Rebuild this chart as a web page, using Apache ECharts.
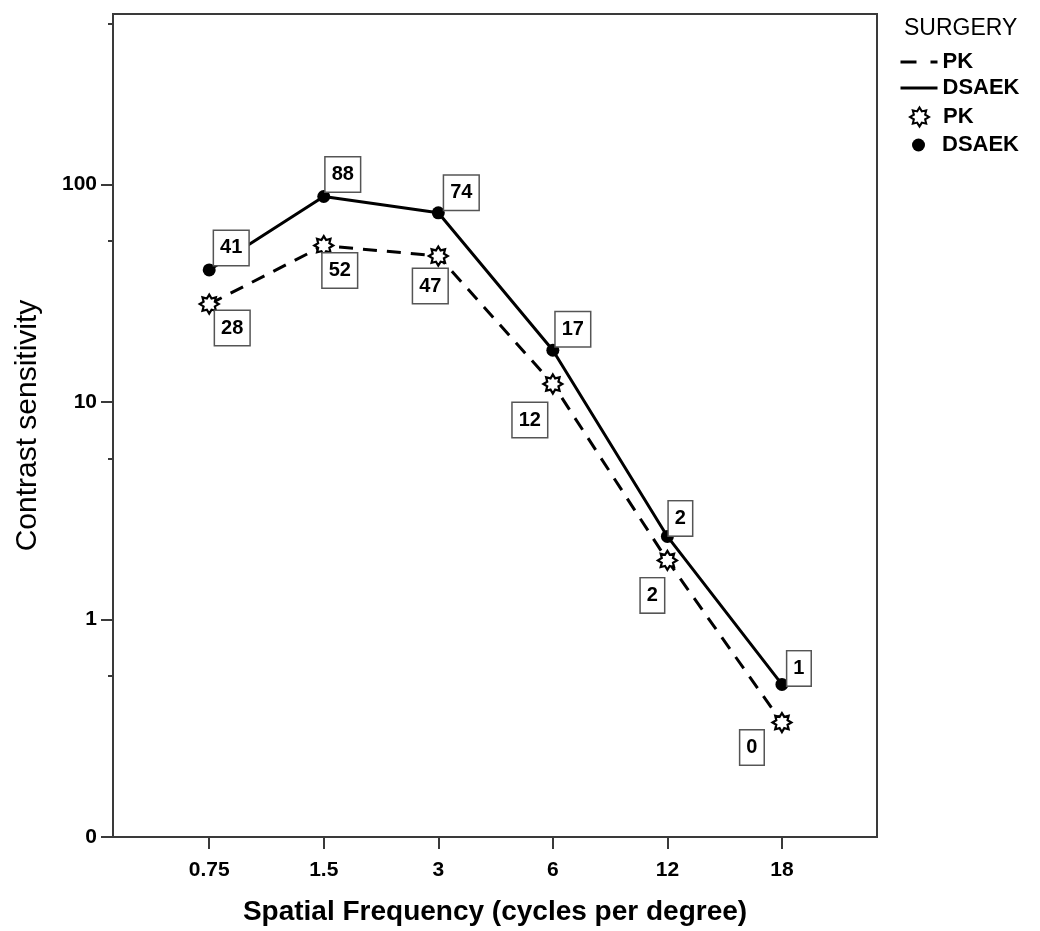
<!DOCTYPE html>
<html>
<head>
<meta charset="utf-8">
<script src="https://cdn.jsdelivr.net/npm/echarts@6/dist/echarts.min.js"></script>
<style>
html,body{margin:0;padding:0;background:#fff;}
#chart{width:1040px;height:931px;}
</style>
</head>
<body>
<div id="chart"></div>
<script>
// ---- data ----
var categories = ['0.75', '1.5', '3', '6', '12', '18'];
var pkValues = [28.2, 52.4, 46.9, 12.1, 1.87, 0.336];
var dsaekValues = [40.5, 88.1, 74.1, 17.3, 2.41, 0.503];
var yTickValues = [0.1, 1, 10, 100];
var yMinorTickValues = [0.55, 5.5, 55, 550];

// ---- label placement (style, not data) ----
var pkLabelOffsets = [[23, 7], [16, 8], [-8, 13], [-23, 19], [-15, 18], [-30, 8]];
var dsaekLabelOffsets = [[22, -5], [19, -5], [23, -3], [20, -4], [13, -1], [17, 1]];

var FONT = "'Liberation Sans', Arial, sans-serif";
var AXIS_COLOR = '#3a3a3a';

function lg(v) { return Math.log10(v); }

// 8-point star outline path
function starPath() {
  var pts = [];
  var n = 8, R = 50, r = 32;
  for (var i = 0; i < n * 2; i++) {
    var a = Math.PI * i / n - Math.PI / 2;
    var rad = (i % 2 === 0) ? R : r;
    pts.push((50 + rad * Math.cos(a)).toFixed(2) + ' ' + (50 + rad * Math.sin(a)).toFixed(2));
  }
  return 'path://M' + pts.join(' L') + ' Z';
}
var STAR = starPath();

function lineData(vals) {
  return vals.map(function (v, i) { return [i, lg(v)]; });
}
function markerData(vals, offsets, vAlign) {
  return vals.map(function (v, i) {
    return {
      value: [i, lg(v)],
      label: { offset: offsets[i], verticalAlign: vAlign }
    };
  });
}

var labelBox = {
  show: true,
  position: ['50%', '50%'],
  align: 'center',
  color: '#000',
  fontFamily: FONT,
  fontSize: 20,
  fontWeight: 'bold',
  lineHeight: 20,
  backgroundColor: '#fff',
  borderColor: '#555',
  borderWidth: 1.5,
  padding: [7, 6]
};

var hiddenSymbol = { color: 'rgba(0,0,0,0)', borderWidth: 0, borderColor: 'rgba(0,0,0,0)' };

var chart = echarts.init(document.getElementById('chart'));
var yMin = -1, yMax = 2.784;

var option = {
  animation: false,
  backgroundColor: '#fff',
  textStyle: { fontFamily: FONT },
  title: {
    text: 'SURGERY',
    left: 904, top: 17, padding: 0,
    textStyle: { fontFamily: FONT, fontSize: 23, fontWeight: 'normal', color: '#000' }
  },
  legend: [
    { data: [{ name: 'PK line', itemStyle: hiddenSymbol, lineStyle: { type: [16, 14], width: 3, color: '#000' } }], top: 51, left: 899 },
    { data: [{ name: 'DSAEK line', itemStyle: hiddenSymbol, lineStyle: { type: 'solid', width: 3, color: '#000' } }], top: 77, left: 899 },
    { data: ['PK marker'], top: 106, itemHeight: 19, left: 909 },
    { data: ['DSAEK marker'], top: 134, itemHeight: 13, left: 912 }
  ].map(function (l) {
    return Object.assign({
      orient: 'vertical', padding: 0, itemWidth: 37, itemHeight: 14, itemGap: 7,
      selectedMode: false,
      formatter: function (name) { return name.split(' ')[0]; },
      textStyle: { fontFamily: FONT, fontSize: 22, fontWeight: 'bold', color: '#000', lineHeight: 22 }
    }, l);
  }),
  grid: {
    left: 113, right: 163, top: 14, bottom: 92,
    show: true, borderColor: AXIS_COLOR, borderWidth: 2, backgroundColor: 'transparent'
  },
  xAxis: {
    type: 'value',
    min: -0.84, max: 5.83,
    axisLine: { show: true, onZero: false, lineStyle: { color: AXIS_COLOR, width: 2 } },
    axisTick: { show: true, customValues: [0, 1, 2, 3, 4, 5], length: 12, lineStyle: { color: AXIS_COLOR, width: 2 } },
    axisLabel: {
      customValues: [0, 1, 2, 3, 4, 5],
      formatter: function (v) { return categories[Math.round(v)]; },
      margin: 23, fontFamily: FONT, fontSize: 21, fontWeight: 'bold', color: '#000'
    },
    splitLine: { show: false },
    name: 'Spatial Frequency (cycles per degree)',
    nameLocation: 'middle', nameGap: 61,
    nameTextStyle: { fontFamily: FONT, fontSize: 28, fontWeight: 'bold', color: '#000' }
  },
  yAxis: [
    {
      type: 'value',
      min: yMin, max: yMax,
      axisLine: { show: true, onZero: false, lineStyle: { color: AXIS_COLOR, width: 2 } },
      axisTick: { show: true, customValues: yTickValues.map(lg), length: 12, lineStyle: { color: AXIS_COLOR, width: 2 } },
      axisLabel: {
        customValues: yTickValues.map(lg),
        formatter: function (v) { return String(Math.round(Math.pow(10, v))); },
        margin: 16, fontFamily: FONT, fontSize: 21, fontWeight: 'bold', color: '#000'
      },
      splitLine: { show: false },
      name: 'Contrast sensitivity',
      nameLocation: 'middle', nameGap: 70,
      nameTextStyle: { fontFamily: FONT, fontSize: 30, fontWeight: 'normal', color: '#000' }
    },
    {
      type: 'value',
      min: yMin, max: yMax,
      position: 'left',
      axisLine: { show: false, onZero: false },
      axisTick: { show: true, customValues: yMinorTickValues.map(lg), length: 5, lineStyle: { color: AXIS_COLOR, width: 2 } },
      axisLabel: { show: false },
      splitLine: { show: false }
    }
  ],
  series: [
    {
      name: 'PK line', type: 'line', data: lineData(pkValues),
      symbol: 'none', z: 2,
      lineStyle: { color: '#000', width: 3, type: [14, 10] },
      itemStyle: { color: '#000' }
    },
    {
      name: 'DSAEK line', type: 'line', data: lineData(dsaekValues),
      symbol: 'none', z: 2,
      lineStyle: { color: '#000', width: 3, type: 'solid' },
      itemStyle: { color: '#000' }
    },
    {
      name: 'PK marker', type: 'scatter', data: markerData(pkValues, pkLabelOffsets, 'top'),
      symbol: STAR, symbolSize: 19, z: 4,
      itemStyle: { color: '#fff', borderColor: '#000', borderWidth: 2.2, opacity: 1 },
      label: Object.assign({}, labelBox, {
        formatter: function (p) { return String(Math.round(pkValues[p.dataIndex])); }
      })
    },
    {
      name: 'DSAEK marker', type: 'scatter', data: markerData(dsaekValues, dsaekLabelOffsets, 'bottom'),
      symbol: 'circle', symbolSize: 13, z: 4,
      itemStyle: { color: '#000', opacity: 1 },
      label: Object.assign({}, labelBox, {
        formatter: function (p) { return String(Math.round(dsaekValues[p.dataIndex])); }
      })
    }
  ]
};
chart.setOption(option);
</script>
</body>
</html>
